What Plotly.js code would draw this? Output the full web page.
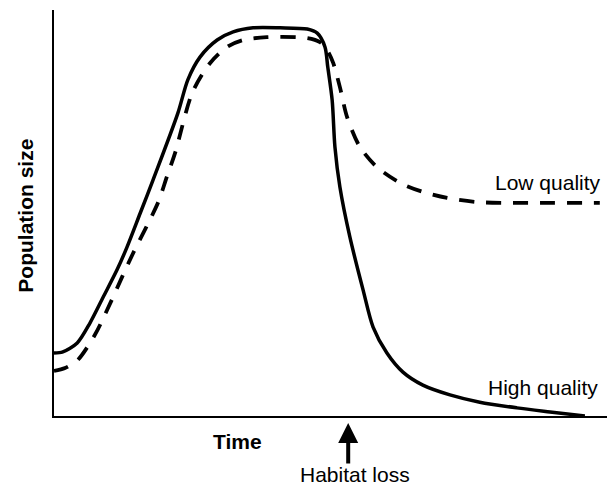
<!DOCTYPE html>
<html>
<head>
<meta charset="utf-8">
<script src="https://cdn.plot.ly/plotly-3.0.1.min.js"></script>
<style>html,body{margin:0;padding:0;background:#fff;}#chart{width:608px;height:488px;}</style>
</head>
<body>
<div id="chart"></div>
<script>
// Time (arbitrary units 0-100) and population size (arbitrary units 0-100)
var highTime = [0, 1.6, 4.2, 6.5, 8.9, 11.4, 13.2, 15.6, 17.9, 22.4, 24.2, 26.4, 29.5, 32.4, 36.0, 40.9, 45.8, 47.6, 49.0, 49.5, 50.3, 50.8, 51.7, 53.5, 55.9, 57.7, 60.2, 63.1, 66.7, 71.6, 77.0, 83.7, 89.7, 96.0];
var highPop  = [15.5, 15.8, 18.0, 22.9, 29.3, 36.0, 41.6, 50.0, 58.1, 74.6, 82.8, 88.4, 92.6, 94.6, 95.6, 95.6, 95.3, 94.3, 90.9, 86.0, 77.8, 66.3, 56.4, 44.1, 31.0, 21.9, 15.5, 10.8, 7.6, 5.2, 3.4, 2.0, 1.0, 0];
var lowTime = [0, 2.0, 4.3, 7.4, 9.6, 12.3, 14.3, 18.8, 20.4, 21.9, 25.0, 28.2, 31.3, 34.2, 38.5, 45.8, 48.1, 49.4, 50.5, 51.7, 53.0, 55.3, 58.4, 62.6, 66.7, 71.1, 76.5, 81.9, 98.7];
var lowPop  = [11.1, 11.8, 13.8, 20.0, 26.1, 34.2, 40.1, 52.5, 58.9, 64.8, 79.6, 86.9, 90.9, 92.6, 93.3, 93.1, 92.1, 90.1, 86.9, 81.0, 73.6, 66.3, 61.3, 57.4, 55.2, 53.7, 52.7, 52.5, 52.5];
var habitatLossTime = 53.2;
var seriesLabels = ["High quality", "Low quality"];
var axisLabels = {x: "Time", y: "Population size", event: "Habitat loss"};

var font = "Liberation Sans, Arial, Helvetica, sans-serif";

var traces = [
  {x: highTime, y: highPop, mode: "lines", name: seriesLabels[0],
   line: {color: "#000", width: 3.5, shape: "spline", smoothing: 0.8}},
  {x: lowTime, y: lowPop, mode: "lines", name: seriesLabels[1],
   line: {color: "#000", width: 3.8, shape: "spline", smoothing: 0.8, dash: "15px,12px"}}
];

var layout = {
  width: 608, height: 488,
  margin: {l: 54, r: 1, t: 10, b: 72},
  paper_bgcolor: "#fff", plot_bgcolor: "#fff",
  showlegend: false,
  font: {family: font, color: "#000", size: 21},
  xaxis: {range: [0, 100], showline: true, linecolor: "#000", linewidth: 2,
          showgrid: false, zeroline: false, showticklabels: false, ticks: ""},
  yaxis: {range: [0, 100], showline: true, linecolor: "#000", linewidth: 2,
          showgrid: false, zeroline: false, showticklabels: false, ticks: ""},
  annotations: [
    {text: seriesLabels[1], xref: "paper", yref: "paper", x: 0.993, y: 0.576,
     xanchor: "right", yanchor: "middle", showarrow: false, font: {size: 21}},
    {text: seriesLabels[0], xref: "paper", yref: "paper", x: 0.988, y: 0.069,
     xanchor: "right", yanchor: "middle", showarrow: false, font: {size: 21}},
    {text: "<b>" + axisLabels.x + "</b>", xref: "paper", yref: "paper", x: 0.331, y: -0.064,
     xanchor: "center", yanchor: "middle", showarrow: false, font: {size: 21}},
    {text: "<b>" + axisLabels.y + "</b>", xref: "paper", yref: "paper", x: -0.051, y: 0.493,
     xanchor: "center", yanchor: "middle", textangle: -90, showarrow: false, font: {size: 21}},
    {text: axisLabels.event, xref: "paper", yref: "paper", x: 0.544, y: -0.143,
     xanchor: "center", yanchor: "middle", showarrow: false, font: {size: 21}},
    {text: "", xref: "x", yref: "paper", x: habitatLossTime, y: -0.017,
     ax: 0, ay: 42, showarrow: true, arrowhead: 2, arrowsize: 1, arrowwidth: 4,
     arrowcolor: "#000", standoff: 0}
  ]
};

Plotly.newPlot("chart", traces, layout, {displayModeBar: false, staticPlot: true});
</script>
</body>
</html>
